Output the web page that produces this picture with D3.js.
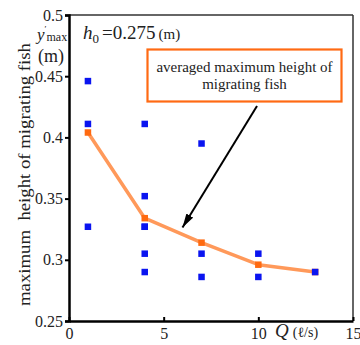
<!DOCTYPE html>
<html>
<head>
<meta charset="utf-8">
<script src="https://cdn.jsdelivr.net/npm/d3@7"></script>
<style>
  html, body { margin: 0; padding: 0; background: #fff; }
  svg { display: block; }
</style>
</head>
<body>
<svg id="chart" width="360" height="345"></svg>
<script>
// Discharge Q (l/s) and measured maximum heights of individual fish (m)
const obsQ = [1, 1, 1, 4, 4, 4, 4, 4, 4, 7, 7, 7, 10, 10, 13];
const obsHeight = [0.446, 0.411, 0.327, 0.411, 0.352, 0.327, 0.305, 0.290, 0.327,
                   0.395, 0.305, 0.286, 0.305, 0.286, 0.290];

// Averaged maximum height for each discharge
const avgQ = [1, 4, 7, 10, 13];
const avgHeight = [0.404, 0.334, 0.314, 0.296, 0.290];

const xTicks = [0, 5, 10, 15];
const yTicks = [0.25, 0.3, 0.35, 0.4, 0.45, 0.5];
const yTickLabels = ["0.25", "0.3", "0.35", "0.4", "0.45", "0.5"];

const SERIF = "'Liberation Serif', 'Times New Roman', Times, 'DejaVu Serif', serif";
const INK = "#222";

const svg = d3.select("#chart").attr("font-family", SERIF);
const L = 69, R = 353, T = 15, B = 321;

const x = d3.scaleLinear().domain([0, 15]).range([L, R]);
const y = d3.scaleLinear().domain([0.25, 0.5]).range([B, T]);

// Frame
svg.append("line").attr("x1", L).attr("x2", R).attr("y1", T).attr("y2", T)
  .attr("stroke", "#333").attr("stroke-width", 1.5);
svg.append("line").attr("x1", R).attr("x2", R).attr("y1", T).attr("y2", B)
  .attr("stroke", "#333").attr("stroke-width", 1.5);

// Y axis (ticks outward)
const yAxis = d3.axisLeft(y).tickValues(yTicks).tickSize(4).tickPadding(2)
  .tickFormat((d, i) => yTickLabels[i]);
const gy = svg.append("g").attr("transform", `translate(${L},0)`).call(yAxis)
  .attr("font-family", SERIF);
gy.select(".domain").attr("stroke", "#000").attr("stroke-width", 2.5);
gy.selectAll(".tick line").attr("stroke", "#000").attr("stroke-width", 2);
gy.selectAll(".tick text").attr("font-size", 16).attr("fill", INK);

// X axis (ticks pointing inward)
const xAxis = d3.axisBottom(x).tickValues(xTicks).tickSize(0).tickPadding(7)
  .tickFormat(d3.format("d"));
const gx = svg.append("g").attr("transform", `translate(0,${B})`).call(xAxis)
  .attr("font-family", SERIF);
gx.select(".domain").attr("stroke", "#000").attr("stroke-width", 2.5);
gx.selectAll(".tick text").attr("font-size", 16).attr("fill", INK);
gx.selectAll(".tick").append("line").attr("y1", 0).attr("y2", -4)
  .attr("stroke", "#000").attr("stroke-width", 2);

// Averaged curve
const avgPts = avgQ.map((q, i) => [q, avgHeight[i]]);
svg.append("path").datum(avgPts)
  .attr("d", d3.line().x(d => x(d[0])).y(d => y(d[1])))
  .attr("fill", "none").attr("stroke", "#ff995a").attr("stroke-width", 3.5)
  .attr("stroke-linejoin", "round");

const sq = 6.5;
svg.append("g").selectAll("rect").data(avgPts).join("rect")
  .attr("x", d => x(d[0]) - sq / 2).attr("y", d => y(d[1]) - sq / 2)
  .attr("width", sq).attr("height", sq).attr("fill", "#ff6a10");

// Individual observations
svg.append("g").selectAll("rect").data(obsQ.map((q, i) => [q, obsHeight[i]])).join("rect")
  .attr("x", d => x(d[0]) - sq / 2).attr("y", d => y(d[1]) - sq / 2)
  .attr("width", sq).attr("height", sq).attr("fill", "#0a14f0");

// Annotation box
svg.append("rect").attr("x", 147.5).attr("y", 49.5).attr("width", 194).attr("height", 52)
  .attr("fill", "#fff").attr("stroke", "#ff6a13").attr("stroke-width", 2.2);
svg.append("text").attr("x", 244.5).attr("y", 72).attr("text-anchor", "middle")
  .attr("font-size", 15).attr("fill", INK).text("averaged maximum height of");
svg.append("text").attr("x", 244.5).attr("y", 89).attr("text-anchor", "middle")
  .attr("font-size", 15).attr("fill", INK).text("migrating fish");

// Arrow pointing to the averaged curve
svg.append("defs").append("marker").attr("id", "head")
  .attr("viewBox", "0 0 14 8").attr("refX", 14).attr("refY", 4)
  .attr("markerWidth", 7).attr("markerHeight", 4).attr("markerUnits", "strokeWidth")
  .attr("orient", "auto")
  .append("path").attr("d", "M0,0 L14,4 L0,8 Z").attr("fill", "#000");
svg.append("line").attr("x1", 257).attr("y1", 106).attr("x2", 182.5).attr("y2", 227.5)
  .attr("stroke", "#000").attr("stroke-width", 2).attr("marker-end", "url(#head)");

// Condition label h0 = 0.275 (m)
const h = svg.append("text").attr("x", 83).attr("y", 38.5).attr("font-size", 19).attr("fill", INK);
h.append("tspan").attr("font-style", "italic").text("h");
h.append("tspan").attr("font-size", 13).attr("dy", 4).text("0");
h.append("tspan").attr("dy", -4).attr("dx", 3).text("=0.275");
h.append("tspan").attr("font-size", 15).attr("dx", 3).text("(m)");

// Y axis symbol y'max and unit
const ys = svg.append("text").attr("x", 37).attr("y", 40).attr("font-size", 17).attr("fill", INK);
ys.append("tspan").attr("font-style", "italic").text("y");
ys.append("tspan").attr("font-size", 9).attr("dy", -8).text("′");
ys.append("tspan").attr("font-size", 12).attr("dy", 9).text("max");
svg.append("text").attr("x", 51).attr("y", 61.5).attr("font-size", 18).attr("fill", INK)
  .attr("text-anchor", "middle").text("(m)");

// Y axis title
svg.append("text").attr("transform", "translate(30,174.5) rotate(-90)")
  .attr("text-anchor", "middle").attr("font-size", 16).attr("fill", INK)
  .attr("textLength", 263).attr("lengthAdjust", "spacingAndGlyphs")
  .attr("xml:space", "preserve").text("maximum  height of migrating fish");

// X axis symbol and unit
const q = svg.append("text").attr("x", 275).attr("y", 337).attr("font-size", 19).attr("fill", INK);
q.append("tspan").attr("font-style", "italic").text("Q");
q.append("tspan").attr("font-size", 14).attr("dx", 4).text("(ℓ/s)");
</script>
</body>
</html>
